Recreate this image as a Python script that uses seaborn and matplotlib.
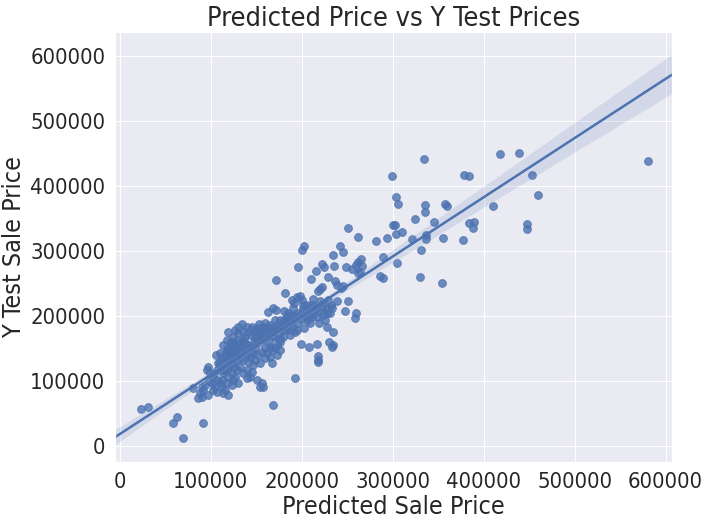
import matplotlib
matplotlib.use("Agg")
import matplotlib.pyplot as plt
import numpy as np
import pandas as pd
import seaborn as sns

# Values, in thousands of dollars
core_pred = [202.9, 200.7, 242.5, 245.1, 234.8, 196.3, 222, 224.2, 215.8, 235.9,
             171.4, 210.3, 228.9, 236.3, 238.5, 245.4, 242.9, 222.7, 220.1, 217.6,
             182.1, 198.2, 194.5, 189.7, 192, 200, 205.5, 212.1, 220.1, 223.8,
             229.3, 238.5, 251.3, 231.9, 227.5, 222, 216.5, 163.4, 168.9, 171.4,
             181, 185.4, 188.3, 196.3, 201.1, 207.7, 248, 259.3, 258.6, 212.8,
             216.5, 227.5, 225.6, 219.4, 227.5, 209.2, 206.2, 202.6, 195.2, 234.8,
             134.1, 139.6, 153.1, 157.9, 162.3, 167, 172.5, 178, 183.5, 189,
             192.7, 187.2, 179.9, 175.5, 170.7, 163.4, 156, 150.5, 144, 137.7,
             135.9, 132.2, 128.6, 124.9, 119.4, 117.6, 123.1, 126.7, 113.9, 110.3,
             105.9, 112.1, 115.8, 121.2, 130.4, 137.7, 145.1, 152.4, 159.7, 165.2,
             172.5, 176.2, 172.5, 165.2, 159.7, 154.2, 146.9, 141.4, 135.9, 132.2,
             139.6, 143.2, 150.5, 156, 157.9, 154.2, 199.6, 208.4, 217.2, 230,
             234.8, 233.7, 218.3, 218.3, 218.3, 167, 193, 97.4, 95.6, 99.3,
             103, 106.6, 110.3, 112.1, 115.8, 113.9, 119.4, 123.1, 126.7, 130.4,
             123.1, 117.6, 104.8, 103, 106.6, 92, 88.3, 90.1, 86.4, 81,
             97.4, 168.9, 92]
core_test = [308.1, 301.9, 308.1, 298.4, 293.7, 275.3, 279.9, 276.3, 270.2, 277.3,
             255.3, 256.8, 260.4, 254.8, 248.1, 246.6, 243, 244.5, 241.4, 238.9,
             235.8, 231.7, 230.2, 225, 219.9, 225, 217.3, 226.1, 224, 220.9,
             225, 224, 224, 217.3, 212.2, 214.8, 215.8, 206.6, 212.2, 209.6,
             207.6, 205.6, 202, 204.5, 210.7, 210.7, 208.1, 204.5, 196.8, 205.6,
             199.4, 204.5, 194.3, 190.2, 184, 190.2, 194.3, 181.5, 178.9, 175.8,
             187.6, 184, 187.6, 183, 184, 181.5, 186.6, 188.1, 191.7, 184,
             176.3, 171.2, 168.6, 173.8, 167.6, 173.8, 178.9, 176.3, 171.2, 168.6,
             163.5, 158.4, 163.5, 168.6, 176.3, 163.5, 155.8, 148.1, 155.8, 143,
             139.9, 135.3, 130.2, 137.9, 140.4, 145.6, 153.3, 158.4, 150.7, 153.3,
             155.8, 148.1, 140.4, 137.9, 135.3, 127.6, 125.1, 130.2, 132.8, 122.5,
             117.4, 107.1, 102, 96.9, 91.7, 91.7, 157.4, 152.2, 156.8, 159.9,
             155.8, 153.3, 138.9, 132.8, 130.2, 127.6, 105.1, 122.5, 117.4, 112.2,
             107.1, 102, 96.9, 91.7, 86.6, 81.5, 78.9, 94.3, 107.1, 96.9,
             112.2, 117.4, 91.7, 86.6, 84.1, 86.6, 81.5, 76.4, 73.8, 89.2,
             78.9, 63.6, 35.3]

dense_pred = [108.4, 112.1, 115.8, 119.4, 121.2, 124.9, 128.6, 126.7, 132.2, 134.1,
              139.6, 143.2, 146.9, 148.7, 141.4, 137.7, 134.1, 128.6, 124.9, 121.2,
              117.6, 115.8, 119.4, 123.1, 110.3, 106.6, 113.9, 119.4, 124.9, 128.6,
              135.9, 139.6, 145.1, 148.7, 152.4, 156, 161.5, 167, 170.7, 176.2,
              179.9, 168.9, 161.5, 157.9, 154.2, 148.7, 146.9, 141.4, 135.9, 130.4,
              126.7, 130.4, 145.1, 152.4, 159.7, 165.2, 176.2, 181.7, 185.4, 190.8,
              194.5, 198.2, 203.7, 211, 214.7, 220.1, 223.8, 231.1, 233, 211,
              201.8, 190.8, 183.5, 176.2, 170.7, 112.1, 101.1, 93.8, 90.1, 117.6,
              118, 122, 127, 131, 136, 140, 144, 148, 152, 156,
              160, 164, 168, 172, 176, 180, 184, 188, 192, 196,
              200, 204, 208, 212, 110, 114, 120, 126, 104, 98]
dense_test = [127.6, 122.5, 117.4, 122.5, 130.2, 127.6, 132.8, 137.9, 135.3, 145.6,
              140.4, 137.9, 143, 150.7, 155.8, 158.4, 153.3, 153.3, 158.4, 150.7,
              145.6, 140.4, 135.3, 143, 130.2, 117.4, 112.2, 107.1, 102, 117.4,
              112.2, 104.6, 114.8, 132.8, 140.4, 145.6, 143, 148.1, 150.7, 160.9,
              178.9, 178.9, 168.6, 163.5, 168.6, 166.1, 178.9, 176.3, 176.3, 173.8,
              178.9, 184, 184, 181.5, 189.1, 186.6, 184, 181.5, 178.9, 194.3,
              199.4, 202, 200.4, 199.4, 209.6, 207.1, 202, 205.6, 212.2, 217.3,
              217.3, 212.2, 199.4, 194.3, 194.3, 102, 96.9, 94.3, 91.7, 96.9,
              150, 160, 145, 150, 160, 150, 145, 160, 170, 165,
              175, 160, 170, 180, 165, 195, 200, 190, 200, 190,
              196, 205, 200, 215, 125, 118, 130, 122, 112, 100]

upper_pred = [299.6, 303.7, 305.5, 300.7, 302.9, 303.7, 294.1, 282, 262.2, 251.2,
              289.7, 334.8, 378.7, 384.2, 335.9, 335.9, 357.8, 360, 324.9, 345.7,
              384.2, 389.7, 388.6, 309.9, 321.6, 336.3, 336.3, 355.6, 377.6, 331.5,
              305.1, 264.9, 262.2, 259.7, 266.6, 264.1, 248.7, 255, 262.2, 286.1,
              289.7, 330, 353.9, 418.3, 439.2, 453.4, 460, 410.6, 448, 448,
              580.9]
upper_test = [415.7, 383, 372.7, 339.9, 339.9, 326, 319.9, 315.7, 321.4, 335.3,
              290.7, 441.4, 417.3, 415.7, 371.1, 359.9, 372.2, 370, 349.1, 344.5,
              343.4, 345, 335.3, 329.1, 318.4, 325, 319.3, 319.9, 316.8, 301.4,
              281.5, 288.1, 283.9, 279.3, 277.3, 268.5, 275.8, 273.2, 267, 261.9,
              258.8, 260.4, 250.7, 449.1, 450.6, 416.8, 386, 369.1, 341.9, 333.7,
              438.3]

low_pred = [23, 31, 62.8, 58.4, 69.4]
low_test = [58, 60, 45.7, 35.4, 13.4]

x_ticks = [0, 100000, 200000, 300000, 400000, 500000, 600000]
y_ticks = [0, 100000, 200000, 300000, 400000, 500000, 600000]

pred = np.array(core_pred + dense_pred + upper_pred + low_pred) * 1000
test = np.array(core_test + dense_test + upper_test + low_test) * 1000
df = pd.DataFrame({"Predicted Sale Price": pred, "Y Test Sale Price": test})

sns.set_theme(style="darkgrid", font_scale=2)
plt.rcParams["font.family"] = ["DejaVu Sans"]
plt.rcParams["font.stretch"] = "condensed"

W, H = 710, 524
fig = plt.figure(figsize=(W / 72, H / 72), dpi=72)
ax = fig.add_axes([115 / W, 1 - 462 / H, (672 - 115) / W, (462 - 32) / H])
ax.set_xlim(-5200, 607000)
sns.regplot(data=df, x="Predicted Sale Price", y="Y Test Sale Price", ax=ax,
            truncate=False, seed=0, scatter_kws={"s": 60},
            line_kws={"lw": 2.5})
ax.set_ylim(-24200, 637400)
ax.set_xticks(x_ticks)
ax.set_yticks(y_ticks)
ax.set_xticklabels([str(t) for t in x_ticks])
ax.set_yticklabels([str(t) for t in y_ticks])
ax.set_xlabel("Predicted Sale Price", fontsize=25)
ax.set_ylabel("Y Test Sale Price", fontsize=25)
ax.set_title("Predicted Price vs Y Test Prices", fontsize=27)
fig.savefig("out.png", dpi=72)
